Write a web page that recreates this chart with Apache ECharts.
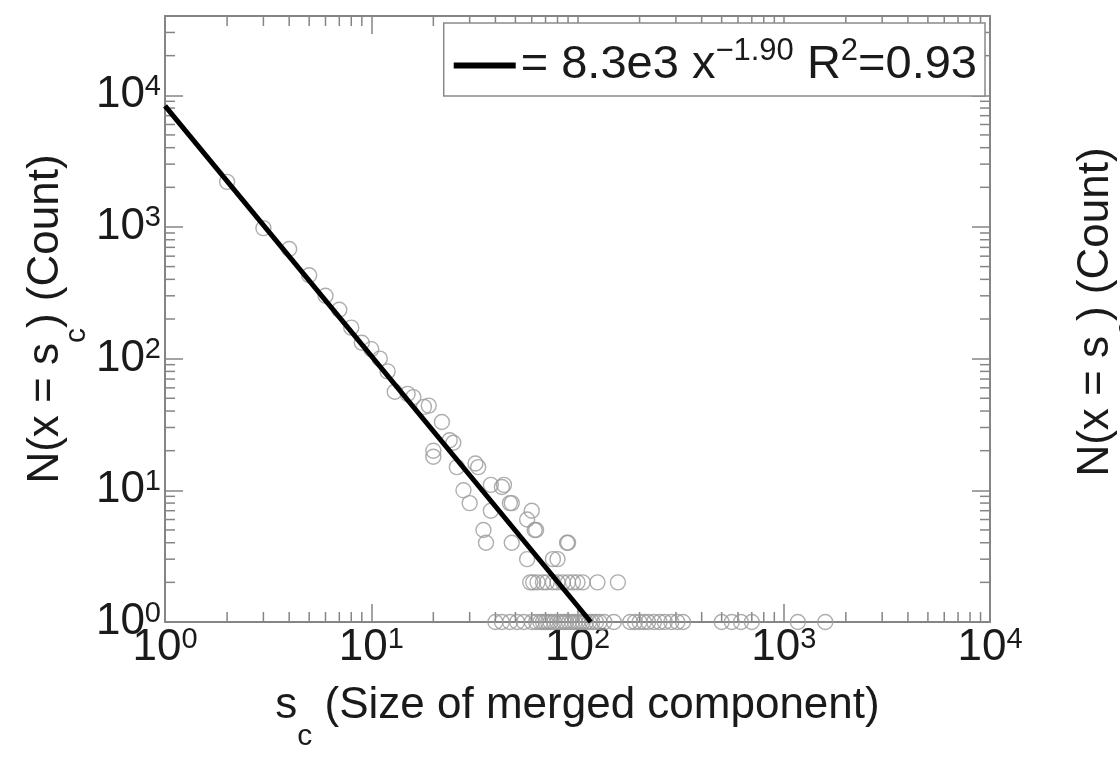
<!DOCTYPE html>
<html><head><meta charset="utf-8">
<script src="https://cdn.jsdelivr.net/npm/echarts@6/dist/echarts.min.js"></script>
<style>html,body{margin:0;padding:0;background:#fff}#c{width:1120px;height:764px}</style>
</head><body><div id="c"></div>
<script>
// ---- data ----
const X_MIN = 1, X_MAX = 10000, Y_MIN = 1, Y_MAX = 40000;
const xTickExponents = ['0', '1', '2', '3', '4'];
const yTickExponents = ['0', '1', '2', '3', '4'];

// points above count 2
const bodySize  = [2, 3, 4, 5, 6, 7, 8, 9, 10, 11, 12, 13, 15, 16, 18, 19, 20, 20, 22, 24, 25, 26, 28, 30, 32, 33, 35, 36, 38, 38, 43, 44, 47, 48, 48, 57, 57, 60, 62, 63, 76, 80, 89, 90];
const bodyCount = [2200, 980, 680, 430, 300, 235, 172, 132, 118, 100, 80, 56, 54, 51, 43, 44, 18, 20, 33, 24, 23, 15, 10, 8, 16, 15, 5, 4, 11, 7, 10.6, 11, 8, 4, 8, 6, 3, 7, 5, 5, 3, 3, 4, 4];
// points with count 2
const pairSize = [59, 61, 64, 68, 71, 76, 80, 85, 90, 95, 100, 106, 125, 157];
// points with count 1
const singleSize = [40, 43, 47, 51, 55, 60, 63, 66, 68, 70, 72, 74, 77, 80, 83, 86, 88, 91, 94, 97, 100, 103, 106, 110, 114, 118, 123, 128, 135, 150, 180, 190, 200, 210, 220, 235, 250, 265, 285, 305, 325, 500, 560, 620, 700, 1170, 1590];

// fitted power law line end points
const fitSize = [1, 116];
const fitCount = [8300, 1];
const fitCoefText = '8.3e3', fitExpText = '\u22121.90', fitR2Text = '0.93';
const fitName = 'fit';

// ---- build ----
const FONT = "'Liberation Sans', Arial, Helvetica, sans-serif";
const TXT = '#1a1a1a';
const AXIS_COLOR = '#858585';

const scatterData = [];
bodySize.forEach((s, i) => scatterData.push([s, bodyCount[i]]));
pairSize.forEach(s => scatterData.push([s, 2]));
singleSize.forEach(s => scatterData.push([s, 1]));
const fitData = fitSize.map((s, i) => [s, fitCount[i]]);

function expLabel(exps) {
  return function (v) {
    const e = Math.log10(v);
    const r = Math.round(e);
    if (Math.abs(e - r) > 1e-6) return '';
    const idx = exps.indexOf(String(r));
    if (idx < 0) return '';
    return '{b|10}{s|' + exps[idx] + '}';
  };
}
const labelRich = {
  b: { fontSize: 44, lineHeight: 46, fontFamily: FONT, color: TXT },
  s: { fontSize: 29, lineHeight: 24, verticalAlign: 'top', fontFamily: FONT, color: TXT }
};
const titleRich = {
  sub: { fontSize: 30, lineHeight: 30, verticalAlign: 'bottom', fontFamily: FONT, color: TXT }
};

const chart = echarts.init(document.getElementById('c'), null, { renderer: 'canvas' });

const hiddenMirror = {
  axisLabel: { show: false },
  splitLine: { show: false },
  axisLine: { show: true, lineStyle: { color: AXIS_COLOR, width: 2 } },
  axisTick: { show: true, inside: true, length: 18, lineStyle: { color: AXIS_COLOR, width: 1.5 } }
};

const option = {
  animation: false,
  backgroundColor: '#fff',
  grid: { left: 165, right: 130, top: 16, bottom: 142, containLabel: false, outerBoundsMode: 'none' },
  xAxis: [{
    type: 'log', logBase: 10, min: X_MIN, max: X_MAX, position: 'bottom',
    name: 's{sub|c} (Size of merged component)', nameLocation: 'middle', nameGap: 38, nameMoveOverlap: false,
    nameTextStyle: { fontSize: 44, lineHeight: 92, fontFamily: FONT, color: TXT, rich: titleRich },
    axisLine: { show: true, lineStyle: { color: AXIS_COLOR, width: 2 } },
    axisTick: { show: true, inside: true, length: 18, lineStyle: { color: AXIS_COLOR, width: 1.5 } },
    axisLabel: { formatter: expLabel(xTickExponents), rich: labelRich, margin: 3, color: TXT },
    splitLine: { show: false }
  }, Object.assign({ type: 'log', logBase: 10, min: X_MIN, max: X_MAX, position: 'top' }, hiddenMirror)],
  yAxis: [{
    type: 'log', logBase: 10, min: Y_MIN, max: Y_MAX, position: 'left',
    name: 'N(x = s{sub|c}) (Count)', nameLocation: 'middle', nameGap: 73, nameRotate: 90, nameMoveOverlap: false,
    nameTextStyle: { fontSize: 44, lineHeight: 92, fontFamily: FONT, color: TXT, rich: titleRich },
    axisLine: { show: true, lineStyle: { color: AXIS_COLOR, width: 2 } },
    axisTick: { show: true, inside: true, length: 18, lineStyle: { color: AXIS_COLOR, width: 1.5 } },
    axisLabel: { formatter: expLabel(yTickExponents), rich: labelRich, margin: 4, color: TXT, showMaxLabel: false },
    splitLine: { show: false }
  }, Object.assign({ type: 'log', logBase: 10, min: Y_MIN, max: Y_MAX, position: 'right' }, hiddenMirror)],
  legend: {
    data: [fitName],
    right: 135, top: 23, padding: [13, 8, 1, 10],
    borderColor: '#8a8a8a', borderWidth: 1.5, backgroundColor: '#fff',
    icon: 'rect', itemWidth: 62, itemHeight: 6, itemGap: 0,
    formatter: () => '= ' + fitCoefText + ' x{sup|' + fitExpText + '} R{sup|2}=' + fitR2Text,
    textStyle: {
      fontSize: 47, lineHeight: 59, fontFamily: FONT, color: TXT, padding: [0, 0, 0, 0],
      rich: { sup: { fontSize: 31, lineHeight: 24, verticalAlign: 'top', fontFamily: FONT, color: TXT } }
    }
  },
  series: [{
    type: 'scatter', name: 'data', data: scatterData,
    symbol: 'circle', symbolSize: 15,
    itemStyle: { color: 'rgba(0,0,0,0)', borderColor: '#9a9a9a', borderWidth: 1.4 },
    z: 2, clip: true
  }, {
    type: 'line', name: fitName, data: fitData, symbol: 'none',
    lineStyle: { color: '#000', width: 5 }, itemStyle: { color: '#000' }, z: 3
  }]
};
chart.setOption(option);

// minor log ticks on all four sides, positioned through the axes' own scales
function minorTicks() {
  const els = [];
  const x0 = chart.convertToPixel({ xAxisIndex: 0 }, X_MIN);
  const x1 = chart.convertToPixel({ xAxisIndex: 0 }, X_MAX);
  const yb = chart.convertToPixel({ yAxisIndex: 0 }, Y_MIN);
  const yt = chart.convertToPixel({ yAxisIndex: 0 }, Y_MAX);
  const L = 10;
  const st = { stroke: AXIS_COLOR, lineWidth: 1.5 };
  for (let d = 1; d < X_MAX; d *= 10) {
    for (let k = 2; k <= 9; k++) {
      const v = k * d; if (v >= X_MAX) continue;
      const px = chart.convertToPixel({ xAxisIndex: 0 }, v);
      els.push({ type: 'line', shape: { x1: px, y1: yb, x2: px, y2: yb - L }, style: st, silent: true });
      els.push({ type: 'line', shape: { x1: px, y1: yt, x2: px, y2: yt + L }, style: st, silent: true });
    }
  }
  for (let d = 1; d < Y_MAX; d *= 10) {
    for (let k = 2; k <= 9; k++) {
      const v = k * d; if (v >= Y_MAX) continue;
      const py = chart.convertToPixel({ yAxisIndex: 0 }, v);
      els.push({ type: 'line', shape: { x1: x0, y1: py, x2: x0 + L, y2: py }, style: st, silent: true });
      els.push({ type: 'line', shape: { x1: x1, y1: py, x2: x1 - L, y2: py }, style: st, silent: true });
    }
  }
  // neighbouring panel's axis title, cut by the right edge
  els.push({
    type: 'text', x: 1096, y: 312, rotation: Math.PI / 2, silent: true,
    style: {
      text: 'N(x = s{sub|c}) (Count)', fontSize: 44, lineHeight: 92, fontFamily: FONT, fill: TXT,
      align: 'center', verticalAlign: 'middle',
      rich: { sub: { fontSize: 30, lineHeight: 30, verticalAlign: 'bottom', fontFamily: FONT, fill: TXT } }
    }
  });
  chart.setOption({ graphic: els });
}
minorTicks();
</script>
</body></html>
